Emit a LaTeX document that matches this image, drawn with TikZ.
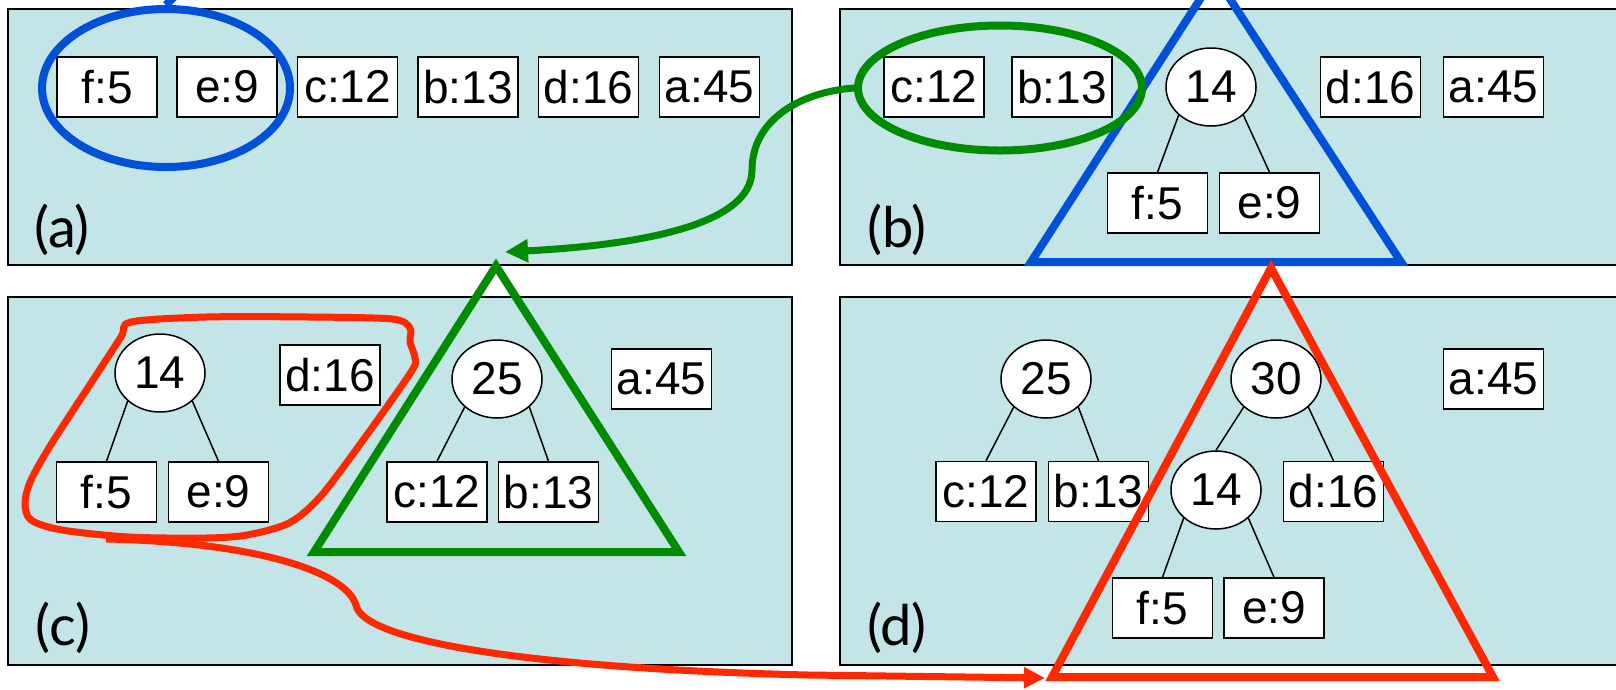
\documentclass[tikz,border=0pt]{standalone}
\usepackage{fontspec}
\setmainfont{Liberation Sans}
\newfontfamily\tagfont{Lato}
\usepackage{tikz}
\usetikzlibrary{arrows.meta,shapes.geometric}
\definecolor{panelcyan}{HTML}{C4E5E7}
\definecolor{hiblue}{HTML}{0050D8}
\definecolor{higreen}{HTML}{008C00}
\definecolor{hired}{HTML}{FF2800}

\begin{document}
\begin{tikzpicture}[x=1pt,y=-1pt,
  leaf/.style={draw,fill=white,line width=1.5pt,minimum width=100pt,minimum height=60pt,inner sep=0pt,font=\fontsize{46}{50}\selectfont},
  sum/.style={ellipse,draw,fill=white,line width=1.5pt,minimum width=90pt,minimum height=78pt,inner sep=0pt,font=\fontsize{46}{50}\selectfont},
  panel/.style={draw,fill=panelcyan,line width=2pt},
  tag/.style={font=\tagfont\fontsize{56}{60}\selectfont},
  link/.style={line width=1.5pt},
  loop/.style={ellipse,draw,line width=8pt,inner sep=0pt},
  hiline/.style={line width=8pt}]
  \useasboundingbox (0,0) rectangle (1616,689);

  \draw[panel] (8,9) rectangle (792,265);
  \draw[panel] (840,9) rectangle (1630,265);
  \draw[panel] (8,297) rectangle (792,665);
  \draw[panel] (840,297) rectangle (1630,665);

  \node[tag] (la) at (62,230) {(a)};
  \node[tag] (lb) at (897,230) {(b)};
  \node[tag] (lc) at (63,628) {(c)};
  \node[tag] (ld) at (897,628) {(d)};

  % (a)
  \node[leaf] (af5) at (107,87) {f:5};
  \node[leaf] (ae9) at (227,87) {e:9};
  \node[leaf] (ac12) at (347.5,87) {c:12};
  \node[leaf] (ab13) at (468,87) {b:13};
  \node[leaf] (ad16) at (588.5,87) {d:16};
  \node[leaf] (aa45) at (709.5,87) {a:45};

  % (b)
  \node[leaf] (bc12) at (934,87) {c:12};
  \node[leaf] (bb13) at (1062,87) {b:13};
  \node[sum] (b14) at (1211,87) {14};
  \node[leaf] (bd16) at (1370.5,87) {d:16};
  \node[leaf] (ba45) at (1493.5,87) {a:45};
  \node[leaf] (bf5) at (1157.5,203) {f:5};
  \node[leaf] (be9) at (1269.5,203) {e:9};
  \draw[link] (b14.south west) -- (bf5.north);
  \draw[link] (b14.south east) -- (be9.north);

  % (c)
  \node[sum] (c14) at (160,373) {14};
  \node[leaf] (cd16) at (330,375) {d:16};
  \node[leaf] (cf5) at (106.5,492) {f:5};
  \node[leaf] (ce9) at (218.5,492) {e:9};
  \node[sum] (c25) at (497,379) {25};
  \node[leaf] (cc12) at (437,492) {c:12};
  \node[leaf] (cb13) at (548.5,492) {b:13};
  \node[leaf] (ca45) at (661.5,379) {a:45};
  \draw[link] (c14.south west) -- (cf5.north);
  \draw[link] (c14.south east) -- (ce9.north);
  \draw[link] (c25.south west) -- (cc12.north);
  \draw[link] (c25.south east) -- (cb13.north);

  % (d)
  \node[sum] (d25) at (1046,379) {25};
  \node[leaf] (dc12) at (986,491.5) {c:12};
  \node[leaf] (db13) at (1098.5,491.5) {b:13};
  \node[sum] (d30) at (1276,379) {30};
  \node[sum] (d14) at (1216,490) {14};
  \node[leaf] (dd16) at (1333.5,491.5) {d:16};
  \node[leaf] (df5) at (1162.5,608) {f:5};
  \node[leaf] (de9) at (1274,608) {e:9};
  \node[leaf] (da45) at (1493.5,379) {a:45};
  \draw[link] (d25.south west) -- (dc12.north);
  \draw[link] (d25.south east) -- (db13.north);
  \draw[link] (d30.south west) -- (d14.north);
  \draw[link] (d30.south east) -- (dd16.north);
  \draw[link] (d14.south west) -- (df5.north);
  \draw[link] (d14.south east) -- (de9.north);

  % highlights
  \node[loop,hiblue,minimum width=248pt,minimum height=158pt] (sela) at (166,88) {};
  \coordinate (btail) at (183,-12);
  \draw[hiline,hiblue] (sela.north) -- (btail);
  \draw[hiline,hiblue] (1215,-24) -- (1401,262) -- (1031,262) -- cycle;

  \node[loop,higreen,minimum width=284pt,minimum height=125pt] (selb) at (1000,88) {};
  \draw[hiline,higreen] (496,266) -- (679,552) -- (314,552) -- cycle;
  \coordinate (gtip) at (505,252);
  \draw[higreen,line width=7pt,-{Triangle[length=23pt,width=22pt]}]
    (selb.west) .. controls (800,92) and (752,120) .. (752,170)
    .. controls (752,225) and (640,245) .. (gtip);

  \draw[hired,line width=7pt] plot[smooth cycle,tension=0.5] coordinates {
    (131,322) (206,317) (309,317) (392,319) (410,328) (410,342) (415,358)
    (411,372) (361,443) (320,497) (289,523) (247,535) (206,538) (129,537)
    (62,530) (31,520) (25,503) (31,480) (52,443) (93,380) (121,337)};
  \draw[hiline,hired] (1271,268) -- (1493,677) -- (1052,677) -- cycle;
  \coordinate (rtail) at (106,539);
  \coordinate (rtip) at (1045,678);
  \draw[hired,line width=7pt,-{Triangle[length=21pt,width=20pt]}]
    (rtail) .. controls (250,542) and (345,570) .. (356,605)
    .. controls (362,640) and (520,668) .. (808,675) -- (rtip);
\end{tikzpicture}
\end{document}
